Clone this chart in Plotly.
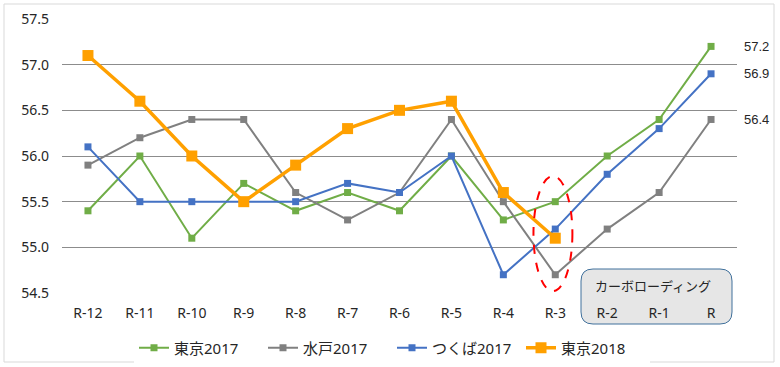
import plotly.graph_objects as go

categories = ["R-12", "R-11", "R-10", "R-9", "R-8", "R-7", "R-6", "R-5", "R-4", "R-3", "R-2", "R-1", "R"]
tokyo2017 = [55.4, 56.0, 55.1, 55.7, 55.4, 55.6, 55.4, 56.0, 55.3, 55.5, 56.0, 56.4, 57.2]
mito2017 = [55.9, 56.2, 56.4, 56.4, 55.6, 55.3, 55.6, 56.4, 55.5, 54.7, 55.2, 55.6, 56.4]
tsukuba2017 = [56.1, 55.5, 55.5, 55.5, 55.5, 55.7, 55.6, 56.0, 54.7, 55.2, 55.8, 56.3, 56.9]
tokyo2018 = [57.1, 56.6, 56.0, 55.5, 55.9, 56.3, 56.5, 56.6, 55.6, 55.1, None, None, None]
yticks = [54.5, 55.0, 55.5, 56.0, 56.5, 57.0, 57.5]
end_labels = [57.2, 56.9, 56.4]
box_label = "カーボローディング"

FONT = "Noto Sans, Noto Sans CJK JP, sans-serif"
W, H = 780, 367
L, R, T, B = 62, 43, 19, 74
pw, ph = W - L - R, H - T - B

def px2paper(x, y):
    return (x - L) / pw, (H - B - y) / ph

fig = go.Figure()
series = [
    ("東京2017", tokyo2017, "#70ad47", 2, 7),
    ("水戸2017", mito2017, "#808080", 2, 7),
    ("つくば2017", tsukuba2017, "#4472c4", 2, 7),
    ("東京2018", tokyo2018, "#ffa000", 3.5, 11),
]
for name, vals, col, lw, ms in series:
    fig.add_trace(go.Scatter(
        x=categories, y=vals, name=name, mode="lines+markers",
        line=dict(color=col, width=lw),
        marker=dict(symbol="square", size=ms, color=col),
        connectgaps=False,
    ))

shapes = []
# outer border
x0, y0 = px2paper(4, 362)
x1, y1 = px2paper(774, 4)
shapes.append(dict(type="rect", xref="paper", yref="paper", x0=x0, y0=y0, x1=x1, y1=y1,
                   line=dict(color="#d9d9d9", width=1), layer="below"))
# rounded box
bx0, by0 = px2paper(581, 324)
bx1, by1 = px2paper(732, 269)
rx, ry = 12 / pw, 12 / ph
path = (f"M {bx0+rx},{by1} L {bx1-rx},{by1} Q {bx1},{by1} {bx1},{by1-ry} "
        f"L {bx1},{by0+ry} Q {bx1},{by0} {bx1-rx},{by0} "
        f"L {bx0+rx},{by0} Q {bx0},{by0} {bx0},{by0+ry} "
        f"L {bx0},{by1-ry} Q {bx0},{by1} {bx0+rx},{by1} Z")
shapes.append(dict(type="path", xref="paper", yref="paper", path=path,
                   fillcolor="#e6e6e6", line=dict(color="#41719c", width=1), layer="below"))
# red dashed ellipse around R-3
shapes.append(dict(type="circle", xref="x", yref="y", x0=8.58, x1=9.33, y0=54.52, y1=55.78,
                   line=dict(color="#ff0000", width=2, dash="dash"), layer="above"))

annotations = []
for v in end_labels:
    annotations.append(dict(xref="paper", yref="y", x=(742 - L) / pw, y=v, xanchor="left",
                            yanchor="middle", text=f"{v:.1f}", showarrow=False,
                            font=dict(family="Liberation Sans, Arial", size=13, color="#262626")))
tx, ty = px2paper(653, 286)
annotations.append(dict(xref="paper", yref="paper", x=tx, y=ty, text=box_label, showarrow=False,
                        xanchor="center", yanchor="middle",
                        font=dict(family=FONT, size=13, color="#262626")))

fig.update_layout(
    width=W, height=H,
    margin=dict(l=L, r=R, t=T, b=B, autoexpand=False),
    paper_bgcolor="white", plot_bgcolor="white",
    font=dict(family=FONT, size=14, color="#262626"),
    showlegend=True,
    legend=dict(orientation="h", x=(392 - L) / pw, xanchor="center",
                yref="container", y=1 - 348 / H, yanchor="middle",
                font=dict(size=15), traceorder="normal", itemwidth=30, entrywidth=84),
    shapes=shapes,
    annotations=annotations,
    xaxis=dict(type="category", showgrid=False, zeroline=False, showline=False, automargin=False,
               range=[-0.5, 12.5], tickfont=dict(size=14), ticklabelstandoff=10),
    yaxis=dict(range=[54.5, 57.5], tickvals=yticks, ticktext=[f"{v:.1f}" for v in yticks],
               automargin=False,
               showgrid=True, gridcolor="#8c8c8c", gridwidth=1, zeroline=False, showline=False,
               tickfont=dict(size=14), ticklabelstandoff=12),
)

fig.write_html("out.html", config={"displayModeBar": False},
               post_script="document.body.style.margin='0';document.body.style.overflow='hidden';")
